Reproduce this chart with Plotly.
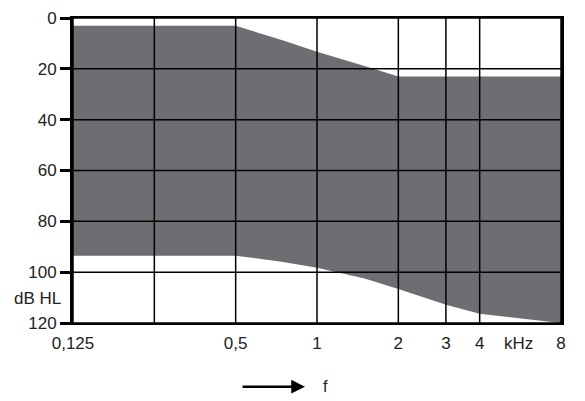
import plotly.graph_objects as go

# Frequencies (kHz) and boundaries of the shaded region (dB HL)
freq = [0.125, 0.25, 0.5, 0.75, 1, 1.5, 2, 3, 4, 8]
upper = [3, 3, 3, 8.9, 13.3, 18.9, 23, 23, 23, 23]
lower = [93.5, 93.5, 93.5, 96, 98.3, 102.5, 106.6, 112.8, 116.4, 120]

x_ticks = [0.125, 0.25, 0.5, 1, 2, 3, 4, 8]
x_ticktext = ["0,125", "", "0,5", "1", "2", "3", "4", "8"]
y_ticks = [0, 20, 40, 60, 80, 100, 120]

FILL = "#6d6d72"
TXT = "#222222"
FONT = "Liberation Sans, Arial, sans-serif"

fig = go.Figure()
fig.add_trace(go.Scatter(x=freq, y=upper, mode="lines", line=dict(width=0, color=FILL),
                         hoverinfo="skip", showlegend=False))
fig.add_trace(go.Scatter(x=freq, y=lower, mode="lines", line=dict(width=0, color=FILL),
                         fill="tonexty", fillcolor=FILL, hoverinfo="skip", showlegend=False))

# grid lines drawn above the fill
gx, gy = [], []
for f in x_ticks:
    gx += [f, f, None]
    gy += [y_ticks[0], y_ticks[-1], None]
for v in y_ticks:
    gx += [x_ticks[0], x_ticks[-1], None]
    gy += [v, v, None]
fig.add_trace(go.Scatter(x=gx, y=gy, mode="lines", line=dict(color="black", width=1.5),
                         hoverinfo="skip", showlegend=False, cliponaxis=False))

fig.update_layout(
    width=577, height=393,
    margin=dict(l=65, r=24, t=10, b=78),
    paper_bgcolor="white", plot_bgcolor="white",
    font=dict(family=FONT, size=17, color=TXT),
    showlegend=False,
    xaxis=dict(type="log", range=[-0.90309, 0.90309], tickvals=x_ticks, ticktext=x_ticktext,
               showgrid=False, zeroline=False, showline=True, mirror=True, automargin=False,
               linecolor="black", linewidth=1.5, ticks="", ticklabelstandoff=4),
    yaxis=dict(range=[120, 0], tickvals=y_ticks, showgrid=False, zeroline=False, automargin=False,
               showline=True, mirror=True, linecolor="black", linewidth=3,
               ticklabeloverflow="allow",
               ticks="outside", ticklen=10, tickwidth=2.5, tickcolor="black"),
    annotations=[
        dict(text="dB HL", xref="paper", yref="y", x=-0.02, y=110.3, xanchor="right",
             yanchor="middle", showarrow=False, font=dict(size=17, color=TXT)),
        dict(text="kHz", xref="paper", yref="paper", x=0.912, y=-0.0675, xanchor="center",
             yanchor="middle", showarrow=False, font=dict(size=17, color=TXT)),
        dict(text="", xref="paper", yref="paper", x=0.4754, y=-0.209, ax=-64, ay=0,
             showarrow=True, arrowhead=2, arrowsize=1.1, arrowwidth=2.5, arrowcolor="black"),
        dict(text="f", xref="paper", yref="paper", x=0.518, y=-0.209, xanchor="center",
             yanchor="middle", showarrow=False, font=dict(size=16, color=TXT)),
    ],
)

fig.write_html("out.html")
